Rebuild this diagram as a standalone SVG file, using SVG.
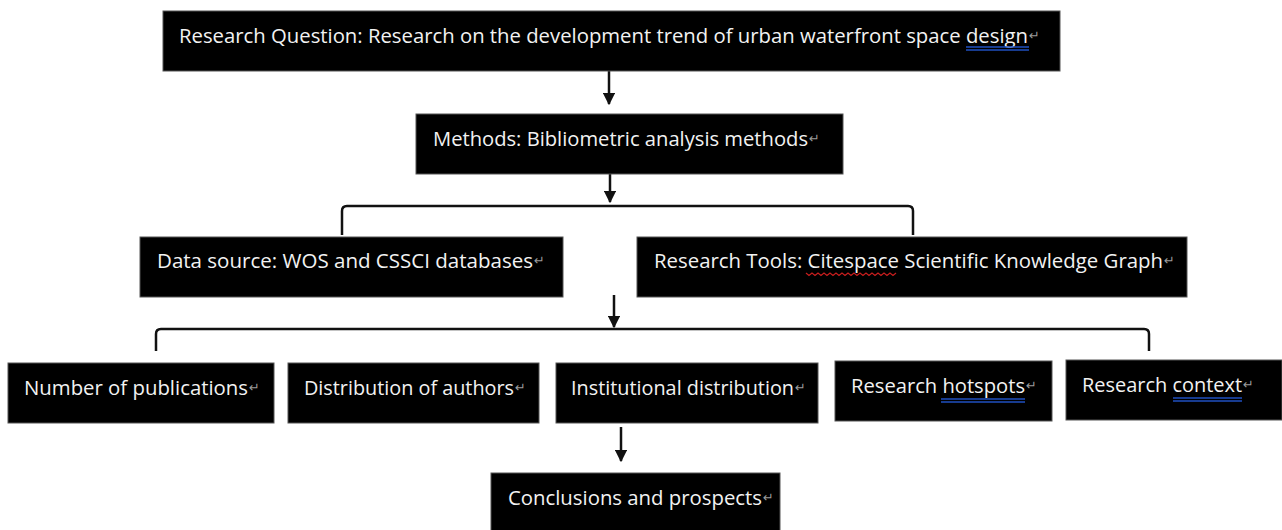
<svg xmlns="http://www.w3.org/2000/svg" width="1282" height="530" viewBox="0 0 1282 530">
<defs>
<style>
.box{fill:#000;stroke:#555;stroke-width:1}
.t{font-family:"Open Sans","Noto Sans","Liberation Sans",sans-serif;font-size:20px;fill:#f2f2f2}
.pm{font-family:"DejaVu Sans",sans-serif;font-size:13px;fill:#9a9a9a}
.ln{fill:none;stroke:#111;stroke-width:2.5}
.ul{stroke:#1f4fbf;stroke-width:1.4}
</style>
<marker id="ah" viewBox="0 0 10 10" refX="9" refY="5" markerWidth="5" markerHeight="5" orient="auto" markerUnits="strokeWidth">
<path d="M0,0 L10,5 L0,10 z" fill="#111"/>
</marker>
</defs>
<rect width="1282" height="530" fill="#fff"/>

<g id="connectors">
<line class="ln" x1="609" y1="71" x2="609" y2="104" marker-end="url(#ah)"/>
<line class="ln" x1="610" y1="174" x2="610" y2="202" marker-end="url(#ah)"/>
<path class="ln" d="M342,235 V211 Q342,206 347,206 H908 Q913,206 913,211 V235"/>
<line class="ln" x1="614" y1="295" x2="614" y2="327" marker-end="url(#ah)"/>
<path class="ln" d="M156,351 V334 Q156,329 161,329 H1144 Q1149,329 1149,334 V351"/>
<line class="ln" x1="621" y1="427" x2="621" y2="461" marker-end="url(#ah)"/>
</g>

<g id="n-question">
<rect class="box" x="163" y="11" width="897" height="60"/>
<text class="t" x="179" y="43" textLength="849" lengthAdjust="spacingAndGlyphs">Research Question: Research on the development trend of urban waterfront space design</text>
<text class="pm" x="1029" y="40">↵</text>
<line class="ul" x1="966" y1="47" x2="1029" y2="47"/>
<line class="ul" x1="966" y1="50" x2="1029" y2="50"/>
</g>

<g id="n-methods">
<rect class="box" x="416" y="114" width="427" height="60"/>
<text class="t" x="433" y="146" textLength="375" lengthAdjust="spacingAndGlyphs">Methods: Bibliometric analysis methods</text>
<text class="pm" x="809" y="143">↵</text>
</g>

<g id="n-data">
<rect class="box" x="140" y="237" width="423" height="60"/>
<text class="t" x="157" y="268" textLength="376" lengthAdjust="spacingAndGlyphs">Data source: WOS and CSSCI databases</text>
<text class="pm" x="534" y="265">↵</text>
</g>

<g id="n-tools">
<rect class="box" x="637" y="237" width="550" height="60"/>
<text class="t" x="654" y="268" textLength="509" lengthAdjust="spacingAndGlyphs">Research Tools: Citespace Scientific Knowledge Graph</text>
<text class="pm" x="1164" y="265">↵</text>
<path d="M806,273 l3,2.5 l3,-2.5 l3,2.5 l3,-2.5 l3,2.5 l3,-2.5 l3,2.5 l3,-2.5 l3,2.5 l3,-2.5 l3,2.5 l3,-2.5 l3,2.5 l3,-2.5 l3,2.5 l3,-2.5 l3,2.5 l3,-2.5 l3,2.5 l3,-2.5 l3,2.5 l3,-2.5 l3,2.5 l3,-2.5 l3,2.5 l3,-2.5 l3,2.5 l3,-2.5 l3,2.5 l3,-2.5" fill="none" stroke="#c81e1e" stroke-width="1.2"/>
</g>

<g id="n-pubs">
<rect class="box" x="8" y="363" width="266" height="60"/>
<text class="t" x="24" y="395" textLength="224" lengthAdjust="spacingAndGlyphs">Number of publications</text>
<text class="pm" x="249" y="392">↵</text>
</g>

<g id="n-authors">
<rect class="box" x="288" y="363" width="251" height="60"/>
<text class="t" x="304" y="395" textLength="210" lengthAdjust="spacingAndGlyphs">Distribution of authors</text>
<text class="pm" x="515" y="392">↵</text>
</g>

<g id="n-inst">
<rect class="box" x="556" y="363" width="262" height="60"/>
<text class="t" x="571" y="395" textLength="223" lengthAdjust="spacingAndGlyphs">Institutional distribution</text>
<text class="pm" x="795" y="392">↵</text>
</g>

<g id="n-hotspots">
<rect class="box" x="835" y="361" width="217" height="60"/>
<text class="t" x="851" y="393" textLength="174" lengthAdjust="spacingAndGlyphs">Research hotspots</text>
<text class="pm" x="1026" y="390">↵</text>
<line class="ul" x1="941" y1="399" x2="1025" y2="399"/>
<line class="ul" x1="941" y1="402" x2="1025" y2="402"/>
</g>

<g id="n-context">
<rect class="box" x="1066" y="360" width="216" height="60"/>
<text class="t" x="1082" y="392" textLength="160" lengthAdjust="spacingAndGlyphs">Research context</text>
<text class="pm" x="1243" y="389">↵</text>
<line class="ul" x1="1173" y1="398" x2="1242" y2="398"/>
<line class="ul" x1="1173" y1="401" x2="1242" y2="401"/>
</g>

<g id="n-conclusions">
<rect class="box" x="491" y="473" width="289" height="60"/>
<text class="t" x="508" y="505" textLength="254" lengthAdjust="spacingAndGlyphs">Conclusions and prospects</text>
<text class="pm" x="763" y="502">↵</text>
</g>
</svg>
